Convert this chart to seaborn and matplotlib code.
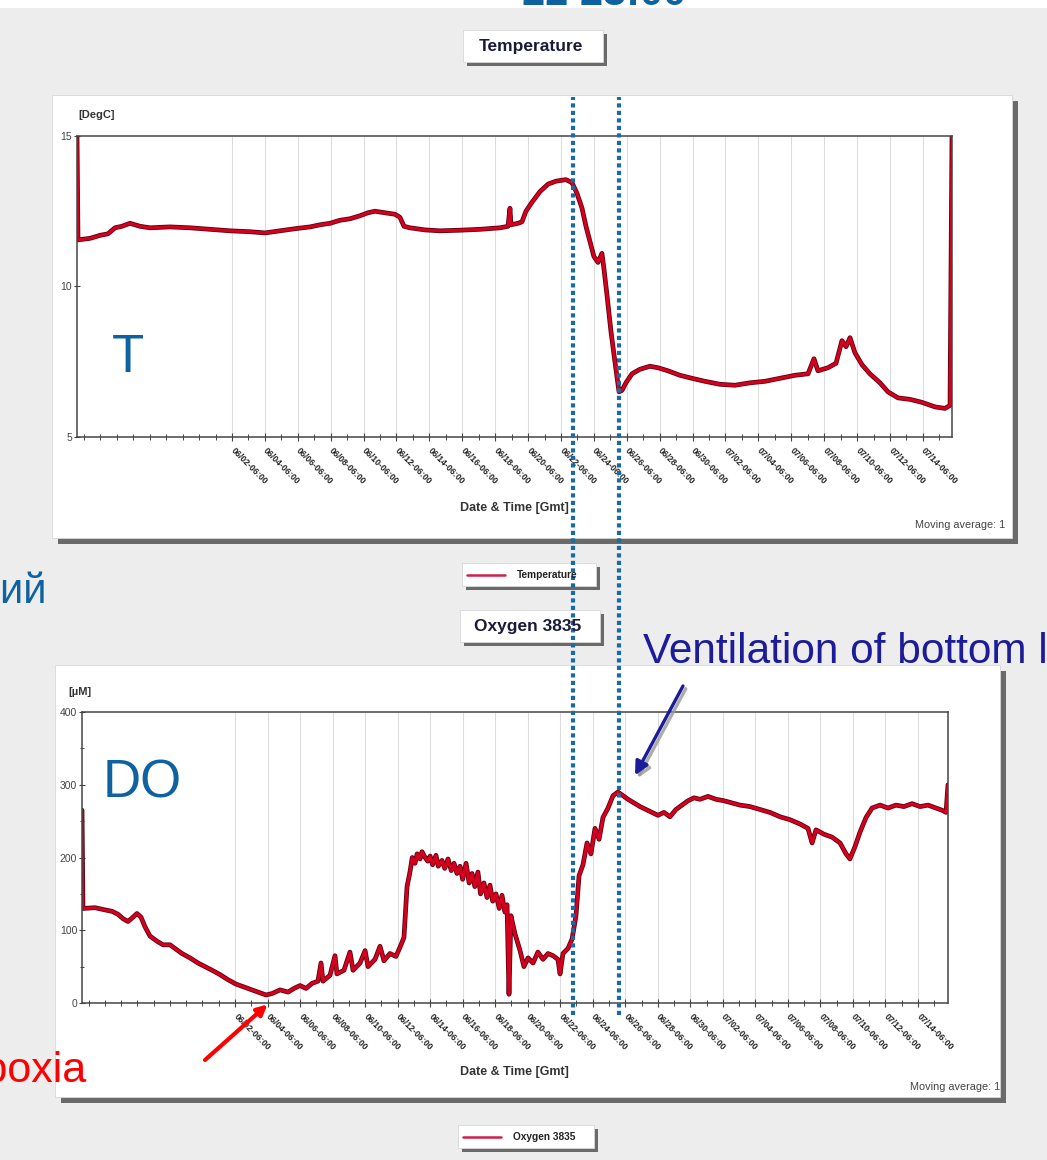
import matplotlib
matplotlib.use("Agg")
import matplotlib.pyplot as plt
import matplotlib.patheffects as pe
from matplotlib.patches import Rectangle
from matplotlib.lines import Line2D
from matplotlib.ticker import MultipleLocator
import pandas as pd
import seaborn as sns

# ---------------------------------------------------------------------------
# Data: time in days since 06/02 06:00 GMT
# ---------------------------------------------------------------------------
temp_days = [-9.42, -9.36, -8.63, -8.02, -7.54, -7.11, -6.69, -6.20, -5.59, -4.98,
             -3.77, -2.55, -1.34, -0.12, 1.09, 2.01, 2.92, 3.83, 4.74, 5.35,
             5.96, 6.57, 7.17, 7.78, 8.27, 8.69, 9.30, 9.91, 10.21, 10.46,
             10.82, 11.73, 12.64, 13.86, 15.08, 16.29, 16.78, 16.90, 16.96, 17.39,
             17.63, 17.87, 18.24, 18.72, 19.21, 19.70, 20.30, 20.67, 20.97, 21.28,
             21.52, 21.76, 22.00, 22.25, 22.49, 22.61, 22.80, 23.04, 23.28, 23.53,
             23.71, 23.95, 24.32, 24.80, 25.41, 25.90, 26.50, 27.23, 27.96, 28.75,
             29.67, 30.58, 31.49, 32.40, 33.31, 34.22, 35.02, 35.38, 35.62, 36.23,
             36.72, 37.08, 37.33, 37.57, 37.87, 38.30, 38.78, 39.39, 39.88, 40.49,
             41.22, 41.95, 42.74, 43.34, 43.65, 43.77]
temp_degc = [15.0, 11.55, 11.6, 11.7, 11.75, 11.95, 12.0, 12.1, 12.0, 11.95,
             11.98, 11.95, 11.9, 11.85, 11.82, 11.78, 11.85, 11.92, 11.98, 12.05,
             12.1, 12.2, 12.25, 12.35, 12.45, 12.5, 12.45, 12.4, 12.3, 12.0,
             11.95, 11.88, 11.85, 11.87, 11.9, 11.95, 12.0, 12.6, 12.05, 12.1,
             12.15, 12.5, 12.8, 13.15, 13.4, 13.5, 13.55, 13.45, 13.1, 12.6,
             12.0, 11.5, 11.0, 10.8, 11.1, 10.6, 9.7, 8.5, 7.5, 6.5,
             6.55, 6.8, 7.1, 7.25, 7.35, 7.3, 7.2, 7.05, 6.95, 6.85,
             6.75, 6.72, 6.8, 6.85, 6.95, 7.05, 7.1, 7.6, 7.2, 7.3,
             7.45, 8.2, 8.0, 8.3, 7.8, 7.4, 7.1, 6.8, 6.5, 6.3,
             6.25, 6.15, 6.0, 5.95, 6.05, 15.0]

oxy_days = [-9.41, -9.35, -8.61, -8.00, -7.56, -7.20, -6.89, -6.58, -6.27, -6.03,
            -5.78, -5.54, -5.23, -4.80, -4.43, -4.00, -3.63, -3.26, -2.77, -2.28,
            -1.85, -1.41, -0.92, -0.43, 0.06, 0.55, 1.05, 1.54, 1.91, 2.28,
            2.77, 3.26, 3.63, 4.00, 4.37, 4.74, 5.10, 5.29, 5.41, 5.84,
            6.15, 6.27, 6.70, 7.07, 7.26, 7.69, 8.00, 8.18, 8.61, 8.92,
            9.16, 9.53, 9.90, 10.21, 10.39, 10.58, 10.76, 10.90, 11.07, 11.20,
            11.38, 11.50, 11.69, 11.85, 12.00, 12.15, 12.36, 12.50, 12.73, 12.90,
            13.10, 13.30, 13.47, 13.65, 13.84, 14.00, 14.21, 14.40, 14.58, 14.75,
            14.94, 15.10, 15.31, 15.50, 15.68, 15.85, 16.05, 16.25, 16.42, 16.60,
            16.73, 16.85, 16.97, 17.22, 17.53, 17.77, 18.02,
            18.33, 18.63, 18.94, 19.25, 19.56, 19.86, 19.99, 20.17, 20.48, 20.73,
            20.97, 21.16, 21.40, 21.65, 21.89, 22.14, 22.39, 22.63, 22.94, 23.25,
            23.55, 23.86, 24.17, 24.54, 24.91, 25.28, 25.65, 26.01, 26.38, 26.75,
            27.12, 27.49, 27.86, 28.23, 28.60, 29.09, 29.58, 30.07, 30.57, 31.06,
            31.67, 32.29, 32.90, 33.52, 34.13, 34.75, 35.24, 35.49, 35.73, 36.22,
            36.72, 37.21, 37.58, 37.82, 38.13, 38.44, 38.81, 39.18, 39.67, 40.16,
            40.65, 41.14, 41.64, 42.13, 42.62, 43.11, 43.48, 43.73, 43.85]
oxy_um = [265, 130, 131, 128, 126, 122, 116, 112, 118, 123,
          118, 105, 92, 85, 80, 80, 74, 68, 62, 55,
          50, 45, 39, 32, 26, 22, 18, 14, 11, 13,
          18, 15, 20, 24, 20, 27, 30, 55, 30, 38,
          65, 40, 45, 70, 45, 55, 72, 50, 60, 78,
          58, 68, 64, 80, 90, 160, 180, 200, 192, 205,
          198, 208, 200, 195, 202, 190, 203, 188, 196, 185,
          198, 182, 192, 178, 188, 170, 192, 165, 178, 160,
          180, 150, 165, 145, 162, 140, 150, 130, 148, 125,
          135, 12, 120, 95, 72, 50, 62,
          55, 70, 60, 68, 65, 60, 40, 68, 75, 88,
          120, 175, 190, 220, 205, 240, 225, 255, 268, 285,
          290, 285, 280, 275, 270, 266, 262, 258, 262, 256,
          266, 272, 278, 282, 280, 284, 280, 278, 275, 272,
          270, 266, 262, 256, 252, 246, 240, 220, 238, 232,
          228, 220, 205, 198, 215, 235, 255, 268, 272, 268,
          272, 270, 274, 270, 272, 268, 265, 262, 300]

tick_days = list(range(0, 43, 2))
tick_labels = ["06/02-06:00", "06/04-06:00", "06/06-06:00", "06/08-06:00",
               "06/10-06:00", "06/12-06:00", "06/14-06:00", "06/16-06:00",
               "06/18-06:00", "06/20-06:00", "06/22-06:00", "06/24-06:00",
               "06/26-06:00", "06/28-06:00", "06/30-06:00", "07/02-06:00",
               "07/04-06:00", "07/06-06:00", "07/08-06:00", "07/10-06:00",
               "07/12-06:00", "07/14-06:00"]

# 06/22 23:00 and the onset of bottom-layer ventilation
event_days = [20.71, 23.53]

temp_df = pd.DataFrame({"day": temp_days, "degc": temp_degc})
oxy_df = pd.DataFrame({"day": oxy_days, "um": oxy_um})

# ---------------------------------------------------------------------------
# Styling
# ---------------------------------------------------------------------------
sns.set_style("white")
plt.rcParams["font.family"] = ["Liberation Sans", "DejaVu Sans"]

W, H = 1047, 1160
RED = "#d4001e"
SLIDE_BLUE = "#0f62a0"
NAVY = "#1c1c9a"
DOT_BLUE = "#1a6aa8"


def fx(x):
    return x / W


def fy(y):
    return 1 - y / H


fig = plt.figure(figsize=(W / 100, H / 100), dpi=100)
fig.patch.set_facecolor("#ededed")


def shadow_box(x0, y0, x1, y1, off=5, shadow="#6a6a6a"):
    fig.patches.append(Rectangle((fx(x0 + off), fy(y1 + off)), (x1 - x0) / W, (y1 - y0) / H,
                                 transform=fig.transFigure, facecolor=shadow,
                                 edgecolor="none", zorder=-2))
    fig.patches.append(Rectangle((fx(x0), fy(y1)), (x1 - x0) / W, (y1 - y0) / H,
                                 transform=fig.transFigure, facecolor="white",
                                 edgecolor="#d8d8d8", lw=0.6, zorder=-1))


# white strip along the top edge
fig.patches.append(Rectangle((0, fy(8)), 1, 8 / H, transform=fig.transFigure,
                             facecolor="white", edgecolor="none", zorder=-2))

# chart panels, titles and legend boxes
shadow_box(52, 95, 1012, 538, off=6)
shadow_box(55, 665, 1000, 1097, off=6)
shadow_box(463, 30, 603, 62, off=4)
shadow_box(460, 610, 600, 642, off=4)
shadow_box(462, 563, 596, 586, off=4)
shadow_box(458, 1125, 594, 1148, off=4)

fig.text(fx(531), fy(46), "Temperature", ha="center", va="center",
         fontsize=12.5, fontweight="bold", color="#1a1a3a")
fig.text(fx(528), fy(626), "Oxygen 3835", ha="center", va="center",
         fontsize=12.5, fontweight="bold", color="#1a1a3a")

line_fx = [pe.Stroke(linewidth=3.4, foreground="#5a0010"), pe.Normal()]

# ---------------------------------------------------------------------------
# Temperature and oxygen panels
# ---------------------------------------------------------------------------
ax1 = fig.add_axes([fx(77), fy(437), (952 - 77) / W, (437 - 136) / H])
ax2 = fig.add_axes([fx(82), fy(1003), (948 - 82) / W, (1003 - 712) / H])
ax1.set_zorder(3)

sns.lineplot(data=temp_df, x="day", y="degc", ax=ax1, color=RED, lw=2.2,
             estimator=None, sort=False, path_effects=line_fx)
ax1.set_xlim(-9.42, 43.77)
ax1.set_ylim(5, 15)
ax1.set_yticks([5, 10, 15])

sns.lineplot(data=oxy_df, x="day", y="um", ax=ax2, color=RED, lw=2.2,
             estimator=None, sort=False, path_effects=line_fx)
ax2.set_xlim(-9.41, 43.85)
ax2.set_ylim(0, 400)
ax2.set_yticks([0, 100, 200, 300, 400])
ax2.yaxis.set_minor_locator(MultipleLocator(50))

for ax in (ax1, ax2):
    ax.set_facecolor("white")
    ax.set_xlabel("")
    ax.set_ylabel("")
    ax.set_xticks(tick_days)
    ax.set_xticklabels(tick_labels, rotation=-45, ha="left", va="center",
                       rotation_mode="anchor", fontsize=6.3, fontweight="bold",
                       color="#222222")
    ax.xaxis.set_minor_locator(MultipleLocator(1))
    ax.tick_params(axis="x", which="major", direction="inout", length=6,
                   width=0.8, color="#444444", pad=6, bottom=True)
    ax.tick_params(axis="x", which="minor", direction="inout", length=4,
                   width=0.7, color="#444444", bottom=True)
    ax.tick_params(axis="y", which="major", direction="inout", length=5, width=0.8,
                   color="#444444", labelsize=7.5, labelcolor="#444444", pad=1, left=True)
    ax.tick_params(axis="y", which="minor", direction="inout", length=3, width=0.7,
                   color="#444444", left=True)
    ax.grid(axis="x", which="major", color="#dddddd", lw=0.8)
    ax.set_axisbelow(True)
    for s in ax.spines.values():
        s.set_color("#454545")
        s.set_linewidth(1.1)

# dotted event lines running through both panels
span_top = (437 - 97) / (437 - 136)
span_bot = (437 - 1015) / (437 - 136)
for d in event_days:
    ax1.axvline(d, ymin=span_bot, ymax=span_top, clip_on=False, color=DOT_BLUE,
                lw=3.0, linestyle=(0, (1.0, 0.8)), zorder=10)

# axis captions
fig.text(fx(78), fy(115), "[DegC]", ha="left", va="center", fontsize=8,
         fontweight="bold", color="#333333")
fig.text(fx(68), fy(692), "[µM]", ha="left", va="center", fontsize=8,
         fontweight="bold", color="#333333")
fig.text(fx(514), fy(508), "Date & Time [Gmt]", ha="center", va="center",
         fontsize=9, fontweight="bold", color="#333333")
fig.text(fx(514), fy(1072), "Date & Time [Gmt]", ha="center", va="center",
         fontsize=9, fontweight="bold", color="#333333")
fig.text(fx(1005), fy(525), "Moving average: 1", ha="right", va="center",
         fontsize=7.8, color="#444444")
fig.text(fx(1000), fy(1087), "Moving average: 1", ha="right", va="center",
         fontsize=7.8, color="#444444")

# legends
fig.add_artist(Line2D([fx(467), fx(505)], [fy(575), fy(575)], color="#d0204a",
                      lw=1.8, transform=fig.transFigure))
fig.text(fx(517), fy(575), "Temperature", ha="left", va="center", fontsize=7.3,
         fontweight="bold", color="#222222")
fig.add_artist(Line2D([fx(463), fx(501)], [fy(1137), fy(1137)], color="#d0204a",
                      lw=1.8, transform=fig.transFigure))
fig.text(fx(513), fy(1137), "Oxygen 3835", ha="left", va="center", fontsize=7.3,
         fontweight="bold", color="#222222")

# slide annotations
fig.text(fx(522), fy(5), "22 23:00", ha="left", va="baseline", fontsize=30,
         fontweight="bold", color=SLIDE_BLUE)
fig.text(fx(112), fy(372), "T", ha="left", va="baseline", fontsize=38, color=SLIDE_BLUE)
fig.text(fx(103), fy(797), "DO", ha="left", va="baseline", fontsize=38, color=SLIDE_BLUE)
fig.text(fx(47), fy(603), "ний", ha="right", va="baseline", fontsize=30, color=SLIDE_BLUE)
fig.text(fx(643), fy(663), "Ventilation of bottom layer", ha="left", va="baseline",
         fontsize=30.5, color=NAVY)
fig.text(fx(87), fy(1082), "Hypoxia", ha="right", va="baseline", fontsize=31, color="#ff0000")

ax2.annotate("", xy=(24.6, 313), xycoords="data",
             xytext=(fx(683), fy(686)), textcoords="figure fraction",
             annotation_clip=False,
             arrowprops=dict(arrowstyle="-|>,head_length=0.8,head_width=0.4",
                             color=NAVY, lw=2.4, shrinkA=0, shrinkB=0,
                             path_effects=[pe.SimpleLineShadow(offset=(2, -2), shadow_color="#999999", alpha=0.8), pe.Normal()]))
ax2.annotate("", xy=(2.0, -2), xycoords="data",
             xytext=(fx(205), fy(1060)), textcoords="figure fraction",
             annotation_clip=False,
             arrowprops=dict(arrowstyle="-|>,head_length=0.6,head_width=0.3",
                             color="#ff0000", lw=3.0, shrinkA=0, shrinkB=0))

fig.savefig("out.png", dpi=100, facecolor=fig.get_facecolor())
